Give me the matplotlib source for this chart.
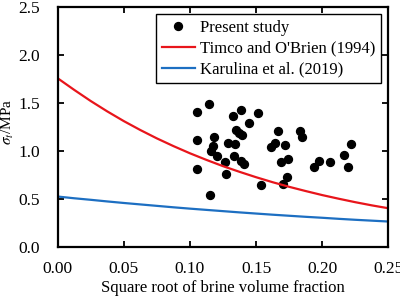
import numpy as np
import matplotlib
matplotlib.use('Agg')
import matplotlib.pyplot as plt
from matplotlib import rcParams
rcParams['font.family'] = 'Liberation Serif'
rcParams['mathtext.fontset'] = 'stix'

##################################################
# data

# present study (measured points)
study_x = [0.1051, 0.1146, 0.1322, 0.1389, 0.1511, 0.1443, 0.1352, 0.1372,
           0.1394, 0.1183, 0.1055, 0.1289, 0.1337, 0.1172, 0.1160, 0.1204,
           0.1332, 0.1383, 0.1409, 0.1264, 0.1051, 0.1273, 0.1662, 0.1644,
           0.1613, 0.1721, 0.1692, 0.1743, 0.1736, 0.1830, 0.1844, 0.1934,
           0.1974, 0.2057, 0.2165, 0.2219, 0.2195, 0.1153, 0.1534, 0.1700]
study_y = [1.399, 1.482, 1.365, 1.424, 1.393, 1.289, 1.211, 1.188,
           1.159, 1.141, 1.107, 1.080, 1.068, 1.052, 1.002, 0.941,
           0.948, 0.891, 0.867, 0.880, 0.809, 0.757, 1.210, 1.080,
           1.039, 1.063, 0.880, 0.917, 0.732, 1.208, 1.143, 0.833,
           0.889, 0.883, 0.951, 1.075, 0.828, 0.539, 0.649, 0.658]

# model curves
curve_x = [0.0, 0.0125, 0.025, 0.0375, 0.05, 0.0625, 0.075, 0.0875, 0.1,
           0.1125, 0.125, 0.1375, 0.15, 0.1625, 0.175, 0.1875, 0.2,
           0.2125, 0.225, 0.2375, 0.25]
timco_y = [1.755, 1.634, 1.518, 1.410, 1.309, 1.216, 1.129, 1.049, 0.974,
           0.905, 0.840, 0.781, 0.725, 0.673, 0.625, 0.581, 0.539,
           0.501, 0.465, 0.432, 0.402]
karulina_y = [0.524, 0.506, 0.490, 0.473, 0.457, 0.442, 0.427, 0.412, 0.398,
              0.385, 0.372, 0.359, 0.347, 0.335, 0.324, 0.313, 0.303,
              0.292, 0.282, 0.273, 0.264]

##################################################
# plot

fig = plt.figure(figsize=(4, 3), dpi=100)
ax = fig.add_axes([0.144, 0.177, 0.827, 0.801])

ax.plot(study_x, study_y, 'o', color='black', ms=5.7, label='Present study')
ax.plot(curve_x, timco_y, color='#e8151b', lw=1.6, label="Timco and O'Brien (1994)")
ax.plot(curve_x, karulina_y, color='#1d6fc2', lw=1.6, label='Karulina et al. (2019)')

ax.set_xlim(0, 0.25)
ax.set_ylim(0, 2.5)
ax.set_xticks([0, 0.05, 0.10, 0.15, 0.20, 0.25])
ax.set_xticklabels(['0.00', '0.05', '0.10', '0.15', '0.20', '0.25'])
ax.set_yticks([0, 0.5, 1.0, 1.5, 2.0, 2.5])
ax.set_yticklabels(['0.0', '0.5', '1.0', '1.5', '2.0', '2.5'])
ax.tick_params(direction='in', top=True, right=True, length=4, width=1.3,
               labelsize=12.5)
ax.tick_params(axis='x', pad=10.5)
ax.tick_params(axis='y', pad=12.5)
for sp in ax.spines.values():
    sp.set_linewidth(1.6)

ax.set_xlabel('Square root of brine volume fraction', fontsize=12, labelpad=2)
ax.set_ylabel(r'$\sigma_t$/MPa', fontsize=11)
ax.yaxis.set_label_coords(-0.125, 0.52)

leg = ax.legend(loc='upper right', bbox_to_anchor=(0.978, 0.97), borderaxespad=0,
                fontsize=12, fancybox=False, framealpha=1, edgecolor='black',
                handlelength=2.0, handletextpad=0.3, labelspacing=0.3,
                borderpad=0.35)
leg.get_frame().set_linewidth(1.0)

plt.savefig('out.png', dpi=100)
